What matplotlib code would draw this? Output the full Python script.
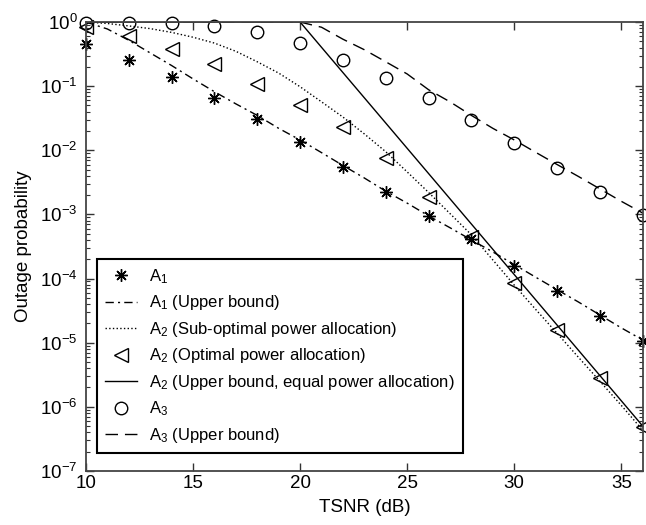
import matplotlib
matplotlib.use('Agg')
import matplotlib.pyplot as plt
from matplotlib.ticker import LogLocator, NullFormatter

plt.rcParams['font.family'] = ['Liberation Sans', 'DejaVu Sans']
plt.rcParams['mathtext.fontset'] = 'custom'
plt.rcParams['mathtext.rm'] = 'Liberation Sans'
plt.rcParams['mathtext.it'] = 'Liberation Sans'
plt.rcParams['mathtext.default'] = 'regular'

# simulation points (every 2 dB)
snr_pts = [10, 12, 14, 16, 18, 20, 22, 24, 26, 28, 30, 32, 34, 36]
a1_sim = [0.45, 0.26, 0.137, 0.066, 0.031, 0.0133, 0.0055, 0.0022,
          0.00094, 0.00041, 1.56e-4, 6.3e-5, 2.6e-5, 1.05e-5]
a2_opt = [0.85, 0.61, 0.38, 0.22, 0.11, 0.051, 0.023, 0.0076,
          0.0019, 4.4e-4, 8.6e-5, 1.6e-5, 2.8e-6, 4.9e-7]
a3_sim = [0.97, 0.98, 0.98, 0.88, 0.69, 0.47, 0.26, 0.135,
          0.065, 0.030, 0.0128, 0.0053, 0.0022, 0.00098]

# analytical curves (every 1 dB)
snr_line = list(range(10, 37))
a1_ub = [1.0, 0.78, 0.52, 0.33, 0.21, 0.13, 0.082, 0.053, 0.035, 0.022,
         0.0145, 0.0092, 0.0058, 0.0037, 0.0023, 0.0015, 0.00095, 0.00062,
         0.00040, 0.00026, 0.000165, 0.000105, 6.7e-5, 4.3e-5, 2.7e-5,
         1.7e-5, 1.1e-5]
a2_sub = [1.0, 0.95, 0.87, 0.79, 0.69, 0.58, 0.47, 0.35, 0.24, 0.16,
          0.098, 0.057, 0.033, 0.018, 0.0095, 0.0046, 0.0022, 0.00103,
          4.8e-4, 1.95e-4, 7.9e-5, 3.3e-5, 1.4e-5, 5.9e-6, 2.5e-6,
          1.05e-6, 4.3e-7]
a3_ub = [1.0, 1.0, 1.0, 1.0, 1.0, 1.0, 1.0, 1.0, 1.0, 1.0,
         1.0, 0.83, 0.54, 0.37, 0.24, 0.155, 0.088, 0.057, 0.035, 0.022,
         0.0145, 0.0093, 0.006, 0.0039, 0.0025, 0.0016, 0.00105]

# equal power upper bound: flat at 1 then straight on log scale
snr_eq = [10, 20, 36]
a2_eq = [1.0, 1.0, 5.0e-7]

fig = plt.figure(figsize=(6.46, 5.25), dpi=100)
ax = fig.add_axes([0.133, 0.103, 0.862, 0.855])

lw = 1.0
ax.semilogy(snr_pts, a1_sim, linestyle='none', marker=(8, 2, 0), ms=9,
            mec='k', mew=1.0, color='k', clip_on=False,
            label=r'$A_1$')
ax.semilogy(snr_line, a1_ub, 'k-.', lw=lw, dashes=(6, 3, 1.5, 3),
            label=r'$A_1$ (Upper bound)')
ax.semilogy(snr_line, a2_sub, 'k:', lw=lw,
            label=r'$A_2$ (Sub-optimal power allocation)')
ax.semilogy(snr_pts, a2_opt, linestyle='none', marker='<', ms=10,
            mfc='none', mec='k', mew=1.0, clip_on=False,
            label=r'$A_2$ (Optimal power allocation)')
ax.semilogy(snr_eq, a2_eq, 'k-', lw=lw,
            label=r'$A_2$ (Upper bound, equal power allocation)')
ax.semilogy(snr_pts, a3_sim, linestyle='none', marker='o', ms=9,
            mfc='none', mec='k', mew=1.0, clip_on=False,
            label=r'$A_3$')
ax.semilogy(snr_line, a3_ub, 'k--', lw=lw, dashes=(9, 5),
            label=r'$A_3$ (Upper bound)')

ax.set_xlim(10, 36)
ax.set_ylim(1e-7, 1)
ax.set_xticks([10, 15, 20, 25, 30, 35])
ax.yaxis.set_major_locator(LogLocator(base=10, numticks=10))
ax.yaxis.set_minor_locator(LogLocator(base=10, subs=range(2, 10), numticks=20))
ax.yaxis.set_minor_formatter(NullFormatter())

ax.tick_params(which='both', direction='in', top=True, right=True,
               labelsize=13.5, color='#333333')
ax.tick_params(which='major', length=6, width=1)
ax.tick_params(which='minor', length=3, width=0.8)
ax.tick_params(axis='x', which='major', pad=3)
ax.tick_params(axis='y', which='major', pad=6)
for sp in ax.spines.values():
    sp.set_linewidth(1.3)
    sp.set_color('#444444')

ax.set_xlabel('TSNR (dB)', fontsize=13.5, labelpad=5)
ax.set_ylabel('Outage probability', fontsize=13.5, labelpad=6)

leg = ax.legend(loc='lower left', bbox_to_anchor=(0.02, 0.04),
                fontsize=12, handlelength=1.9, handletextpad=0.7,
                labelspacing=0.45, borderpad=0.5, fancybox=False,
                framealpha=1, edgecolor='k', borderaxespad=0)
leg.get_frame().set_linewidth(1.5)

fig.savefig('out.png', dpi=100)
